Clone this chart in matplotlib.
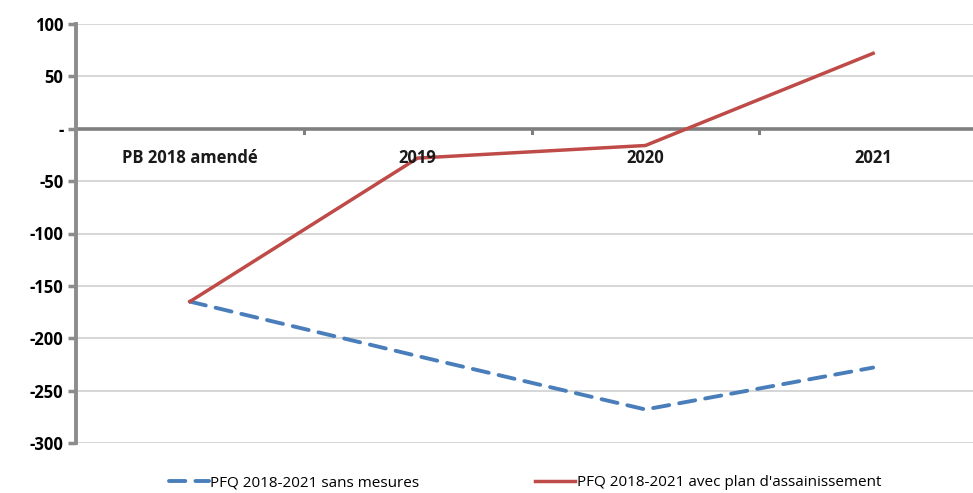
import matplotlib
matplotlib.use("Agg")
import matplotlib.pyplot as plt
from matplotlib.ticker import FixedLocator, FuncFormatter

categories = ["PB 2018 amendé", "2019", "2020", "2021"]
sans_mesures = [-165, -217, -268, -228]
avec_plan = [-165, -28, -16, 72]
yticks = [100, 50, 0, -50, -100, -150, -200, -250, -300]
labels = ["PFQ 2018-2021 sans mesures", "PFQ 2018-2021 avec plan d'assainissement"]

plt.rcParams['font.family'] = ['Open Sans', 'DejaVu Sans']

fig = plt.figure(figsize=(9.73, 4.93), dpi=100)
ax = fig.add_axes([76/973, 1-443/493, (987-76)/973, (443-24)/493])

x = list(range(len(categories)))
l1, = ax.plot(x, sans_mesures, color="#4a7ebb", lw=2.8, dashes=(4.2, 2.6), dash_capstyle='round')
l2, = ax.plot(x, avec_plan, color="#be4b48", lw=2.5)

ax.set_xlim(-0.5, 3.5)
ax.set_ylim(-300, 100)
ax.yaxis.set_major_locator(FixedLocator(yticks))
ax.yaxis.set_major_formatter(FuncFormatter(lambda v, p: "-" if v == 0 else f"{int(v)}"))
for t in ax.get_yticklabels():
    t.set_fontweight('bold')
ax.tick_params(axis='y', labelsize=12, length=6, width=2.5, color="#8c8c8c", pad=3)
ax.grid(axis='y', color="#d0d0d0", lw=1.2)
ax.set_axisbelow(True)

for s in ['top', 'right', 'bottom']:
    ax.spines[s].set_visible(False)
ax.spines['left'].set_color("#8c8c8c")
ax.spines['left'].set_linewidth(2.8)

# zero axis line with category separators
ax.axhline(0, color="#7f7f7f", lw=2.6, zorder=1.5)
ax.set_xticks([])
for b in [0.5, 1.5, 2.5]:
    ax.plot([b, b], [0, -4], color="#7f7f7f", lw=2.2, zorder=1.5)

for xi, c in zip(x, categories):
    ax.text(xi, -28, c, ha='center', va='center', fontsize=12, fontweight='bold', color='#1a1a1a')

fig.legend([l1, l2], labels, loc='center', bbox_to_anchor=(525/973, 1-483/493), ncol=2,
           frameon=False, fontsize=11, handlelength=2.6, columnspacing=7.6, handletextpad=0.1,
           borderpad=0.1)

fig.savefig("out.png", dpi=100)
